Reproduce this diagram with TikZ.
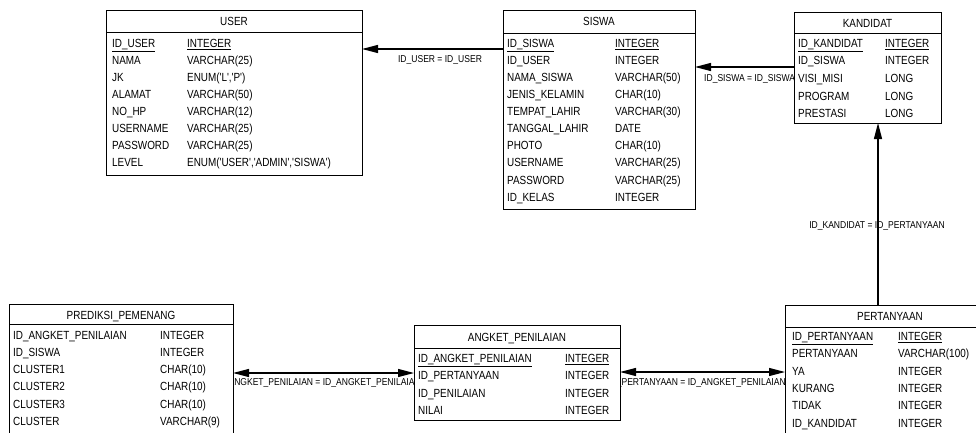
\documentclass[tikz,border=0pt]{standalone}
\usepackage{fontspec}
\setmainfont{Liberation Sans}
\newfontfamily\fldfont{Liberation Sans}[FakeStretch=0.84]
\newfontfamily\lblfont{Liberation Sans}[FakeStretch=0.855]
\usetikzlibrary{arrows.meta,backgrounds}
\begin{document}
\begin{tikzpicture}[x=1pt,y=-1pt,
  tbl/.style={draw,line width=0.9pt,fill=white,anchor=north west,inner sep=0pt,outer sep=0pt},
  fld/.style={anchor=base west,inner sep=0pt,yshift=-4.2pt,font=\fldfont\fontsize{11.8}{13}\selectfont},
  ttl/.style={anchor=base,inner sep=0pt,yshift=-4.2pt,font=\fldfont\fontsize{11.8}{13}\selectfont},
  lbl/.style={anchor=base,inner sep=0pt,yshift=-3.6pt,font=\lblfont\fontsize{10}{11}\selectfont},
  sep/.style={line width=0.9pt},
  rel/.style={line width=1.2pt},
  tipend/.style={-{Triangle[length=16pt,width=8pt]}},
  tipboth/.style={{Triangle[length=16pt,width=8pt]}-{Triangle[length=16pt,width=8pt]}}]
\clip (0,0) rectangle (976,433);

% ---------- USER ----------
\node[tbl,minimum width=256pt,minimum height=165pt] (user) at (106,10) {};
\node[ttl] (userT) at (234,21) {USER};
\draw[sep] (user.west |- 0,32) -- (user.east |- 0,32);
\node[fld] (u1a) at (112,43.0) {\underline{ID\_USER}};   \node[fld] (u1b) at (187,43.0) {\underline{INTEGER}};
\node[fld] (u2a) at (112,60.1) {NAMA};       \node[fld] (u2b) at (187,60.1) {VARCHAR(25)};
\node[fld] (u3a) at (112,77.2) {JK};         \node[fld] (u3b) at (187,77.2) {ENUM('L','P')};
\node[fld] (u4a) at (112,94.3) {ALAMAT};     \node[fld] (u4b) at (187,94.3) {VARCHAR(50)};
\node[fld] (u5a) at (112,111.4) {NO\_HP};    \node[fld] (u5b) at (187,111.4) {VARCHAR(12)};
\node[fld] (u6a) at (112,128.5) {USERNAME};  \node[fld] (u6b) at (187,128.5) {VARCHAR(25)};
\node[fld] (u7a) at (112,145.6) {PASSWORD};  \node[fld] (u7b) at (187,145.6) {VARCHAR(25)};
\node[fld] (u8a) at (112,162.7) {LEVEL};     \node[fld] (u8b) at (187,162.7) {ENUM('USER','ADMIN','SISWA')};

% ---------- SISWA ----------
\node[tbl,minimum width=192pt,minimum height=199pt] (siswa) at (503,10) {};
\node[ttl] (siswaT) at (599,21) {SISWA};
\draw[sep] (siswa.west |- 0,33) -- (siswa.east |- 0,33);
\node[fld] (s1a) at (507,43.0) {\underline{ID\_SISWA}};  \node[fld] (s1b) at (615,43.0) {\underline{INTEGER}};
\node[fld] (s2a) at (507,60.1) {ID\_USER};        \node[fld] (s2b) at (615,60.1) {INTEGER};
\node[fld] (s3a) at (507,77.2) {NAMA\_SISWA};     \node[fld] (s3b) at (615,77.2) {VARCHAR(50)};
\node[fld] (s4a) at (507,94.3) {JENIS\_KELAMIN};  \node[fld] (s4b) at (615,94.3) {CHAR(10)};
\node[fld] (s5a) at (507,111.4) {TEMPAT\_LAHIR};  \node[fld] (s5b) at (615,111.4) {VARCHAR(30)};
\node[fld] (s6a) at (507,128.5) {TANGGAL\_LAHIR}; \node[fld] (s6b) at (615,128.5) {DATE};
\node[fld] (s7a) at (507,145.6) {PHOTO};          \node[fld] (s7b) at (615,145.6) {CHAR(10)};
\node[fld] (s8a) at (507,162.7) {USERNAME};       \node[fld] (s8b) at (615,162.7) {VARCHAR(25)};
\node[fld] (s9a) at (507,179.8) {PASSWORD};       \node[fld] (s9b) at (615,179.8) {VARCHAR(25)};
\node[fld] (s10a) at (507,196.9) {ID\_KELAS};     \node[fld] (s10b) at (615,196.9) {INTEGER};

% ---------- KANDIDAT ----------
\node[tbl,minimum width=147pt,minimum height=111pt] (kand) at (794,12) {};
\node[ttl] (kandT) at (867.5,23) {KANDIDAT};
\draw[sep] (kand.west |- 0,33) -- (kand.east |- 0,33);
\node[fld] (k1a) at (798,43.0) {\underline{ID\_KANDIDAT}}; \node[fld] (k1b) at (885,43.0) {\underline{INTEGER}};
\node[fld] (k2a) at (798,60.8) {ID\_SISWA};  \node[fld] (k2b) at (885,60.8) {INTEGER};
\node[fld] (k3a) at (798,78.4) {VISI\_MISI}; \node[fld] (k3b) at (885,78.4) {LONG};
\node[fld] (k4a) at (798,96.0) {PROGRAM};    \node[fld] (k4b) at (885,96.0) {LONG};
\node[fld] (k5a) at (798,113.2) {PRESTASI};  \node[fld] (k5b) at (885,113.2) {LONG};

% ---------- PREDIKSI_PEMENANG ----------
\node[tbl,minimum width=224pt,minimum height=150pt] (pred) at (9,304) {};
\node[ttl] (predT) at (121,315) {PREDIKSI\_PEMENANG};
\draw[sep] (pred.west |- 0,324) -- (pred.east |- 0,324);
\node[fld] (p1a) at (13,335.0) {ID\_ANGKET\_PENILAIAN}; \node[fld] (p1b) at (160,335.0) {INTEGER};
\node[fld] (p2a) at (13,352.2) {ID\_SISWA};  \node[fld] (p2b) at (160,352.2) {INTEGER};
\node[fld] (p3a) at (13,369.4) {CLUSTER1};   \node[fld] (p3b) at (160,369.4) {CHAR(10)};
\node[fld] (p4a) at (13,386.6) {CLUSTER2};   \node[fld] (p4b) at (160,386.6) {CHAR(10)};
\node[fld] (p5a) at (13,403.8) {CLUSTER3};   \node[fld] (p5b) at (160,403.8) {CHAR(10)};
\node[fld] (p6a) at (13,421.0) {CLUSTER};    \node[fld] (p6b) at (160,421.0) {VARCHAR(9)};

% ---------- ANGKET_PENILAIAN ----------
\node[tbl,minimum width=206pt,minimum height=95pt] (ang) at (414,325) {};
\node[ttl] (angT) at (517,337) {ANGKET\_PENILAIAN};
\draw[sep] (ang.west |- 0,348) -- (ang.east |- 0,348);
\node[fld] (a1a) at (418,358.0) {\underline{ID\_ANGKET\_PENILAIAN}}; \node[fld] (a1b) at (565,358.0) {\underline{INTEGER}};
\node[fld] (a2a) at (418,375.4) {ID\_PERTANYAAN}; \node[fld] (a2b) at (565,375.4) {INTEGER};
\node[fld] (a3a) at (418,392.8) {ID\_PENILAIAN};  \node[fld] (a3b) at (565,392.8) {INTEGER};
\node[fld] (a4a) at (418,410.2) {NILAI};          \node[fld] (a4b) at (565,410.2) {INTEGER};

% ---------- PERTANYAAN ----------
\node[tbl,minimum width=210pt,minimum height=150pt] (pert) at (785,305) {};
\node[ttl] (pertT) at (890,316) {PERTANYAAN};
\draw[sep] (pert.west |- 0,327) -- (pert.east |- 0,327);
\node[fld] (q1a) at (792,336.0) {\underline{ID\_PERTANYAAN}}; \node[fld] (q1b) at (898,336.0) {\underline{INTEGER}};
\node[fld] (q2a) at (792,353.4) {PERTANYAAN};  \node[fld] (q2b) at (898,353.4) {VARCHAR(100)};
\node[fld] (q3a) at (792,370.8) {YA};          \node[fld] (q3b) at (898,370.8) {INTEGER};
\node[fld] (q4a) at (792,388.2) {KURANG};      \node[fld] (q4b) at (898,388.2) {INTEGER};
\node[fld] (q5a) at (792,405.6) {TIDAK};       \node[fld] (q5b) at (898,405.6) {INTEGER};
\node[fld] (q6a) at (792,423.0) {ID\_KANDIDAT}; \node[fld] (q6b) at (898,423.0) {INTEGER};

% ---------- relations ----------
\draw[rel,tipend] (siswa.west |- 0,49) -- (user.east |- 0,49);
\draw[rel,tipend] (kand.west |- 0,67) -- (siswa.east |- 0,67);
\draw[rel,tipend] (pert.north -| 878,0) -- (kand.south -| 878,0);
\draw[rel,tipboth] (pred.east |- 0,373) -- (ang.west |- 0,373);
\draw[rel,tipboth] (ang.east |- 0,372) -- (pert.west |- 0,372);

% ---------- relation labels (behind the tables) ----------
\begin{pgfonlayer}{background}
\node[lbl] (l1) at (440,59) {ID\_USER = ID\_USER};
\node[lbl,anchor=base west] (l2) at (704,78) {ID\_SISWA = ID\_SISWA};
\node[lbl] (l4) at (318,382) {ID\_ANGKET\_PENILAIAN = ID\_ANGKET\_PENILAIAN};
\node[lbl] (l5) at (697,382) {ID\_PERTANYAAN = ID\_ANGKET\_PENILAIAN};
\end{pgfonlayer}
\node[lbl] (l3) at (877,225) {ID\_KANDIDAT = ID\_PERTANYAAN};
\end{tikzpicture}
\end{document}
